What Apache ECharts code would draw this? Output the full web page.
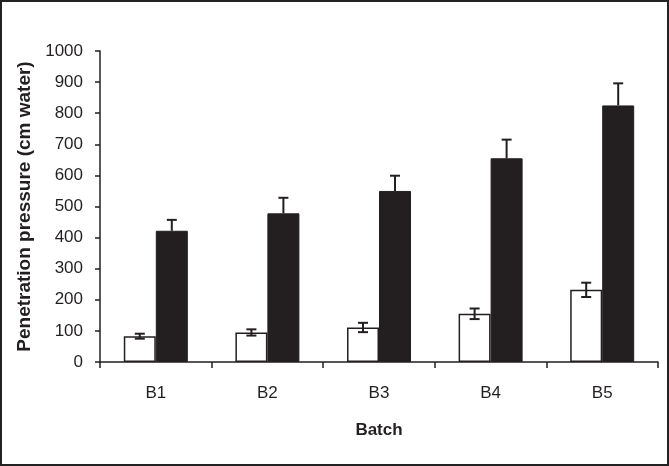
<!DOCTYPE html>
<html>
<head>
<meta charset="utf-8">
<script src="https://cdn.jsdelivr.net/npm/echarts@6/dist/echarts.min.js"></script>
<style>
html,body{margin:0;padding:0;background:#fff;}
#wrap{position:absolute;left:0;top:0;width:665px;height:462px;border:2px solid #222;}
#chart{position:absolute;left:-2px;top:-2px;width:669px;height:466px;}
</style>
</head>
<body>
<div id="wrap"><div id="chart"></div></div>
<script>
const categories = ['B1', 'B2', 'B3', 'B4', 'B5'];
const whiteValues = [83, 95, 111, 155, 232];
const whiteErrors = [8, 10, 15, 17, 23];
const blackValues = [422, 478, 550, 655, 825];
const blackErrors = [35, 50, 49, 60, 71];
const yTicks = [0, 100, 200, 300, 400, 500, 600, 700, 800, 900, 1000];

const font = '"Liberation Sans Narrow", "Liberation Sans", Arial, sans-serif';
const chart = echarts.init(document.getElementById('chart'));
const BAR_W = 32;

function errRender(values, errs, offset, both) {
  return function (params, api) {
    const i = api.value(0);
    const v = values[i], e = errs[i];
    const c = api.coord([i, v]);
    const x = c[0] + offset;
    const top = api.coord([i, v + e])[1];
    const bot = both ? api.coord([i, v - e])[1] : c[1];
    const hw = 5;
    const style = { stroke: '#231f20', lineWidth: 2 };
    const children = [
      { type: 'line', shape: { x1: x, y1: top, x2: x, y2: bot }, style },
      { type: 'line', shape: { x1: x - hw, y1: top, x2: x + hw, y2: top }, style }
    ];
    if (both) children.push({ type: 'line', shape: { x1: x - hw, y1: bot, x2: x + hw, y2: bot }, style });
    return { type: 'group', children };
  };
}

chart.setOption({
  animation: false,
  grid: { left: 100, right: 11, top: 51, bottom: 104 },
  xAxis: {
    type: 'category',
    data: categories,
    name: 'Batch',
    nameLocation: 'middle',
    nameGap: 60,
    nameTextStyle: { fontFamily: 'Liberation Sans, Arial, sans-serif', fontWeight: 'bold', fontSize: 17, color: '#231f20' },
    axisLine: { lineStyle: { color: '#231f20', width: 1.5 } },
    axisTick: { show: true, alignWithLabel: false, length: 6, lineStyle: { color: '#231f20', width: 1.5 } },
    axisLabel: { fontFamily: font, fontSize: 17, color: '#231f20', margin: 23 }
  },
  yAxis: {
    type: 'value',
    min: 0, max: 1000, interval: 100,
    name: 'Penetration pressure (cm water)',
    nameLocation: 'middle',
    nameGap: 66,
    nameTextStyle: { fontFamily: 'Liberation Sans, Arial, sans-serif', fontWeight: 'bold', fontSize: 19, color: '#231f20' },
    axisLine: { show: true, lineStyle: { color: '#231f20', width: 1.5 } },
    axisTick: { show: true, length: 5, lineStyle: { color: '#231f20', width: 1.5 } },
    splitLine: { show: false },
    axisLabel: { fontFamily: font, fontSize: 17, color: '#231f20', margin: 17,
      formatter: v => yTicks.includes(v) ? String(v) : '' }
  },
  series: [
    { type: 'bar', data: whiteValues, barWidth: BAR_W, barGap: '0%',
      itemStyle: { color: '#ffffff', borderColor: '#231f20', borderWidth: 1.5 } },
    { type: 'bar', data: blackValues, barWidth: BAR_W, barGap: '0%',
      itemStyle: { color: '#231f20', borderColor: '#231f20', borderWidth: 1 } },
    { type: 'custom', data: categories.map((c, i) => [i]), z: 5,
      renderItem: errRender(whiteValues, whiteErrors, -BAR_W / 2, true) },
    { type: 'custom', data: categories.map((c, i) => [i]), z: 5,
      renderItem: errRender(blackValues, blackErrors, BAR_W / 2, false) }
  ]
});
</script>
</body>
</html>
